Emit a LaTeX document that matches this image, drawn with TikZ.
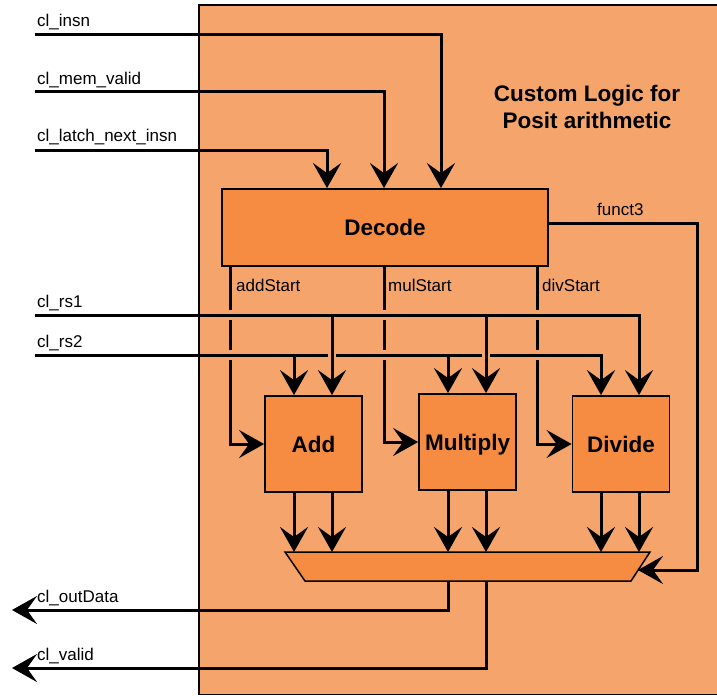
\documentclass[tikz,border=0pt]{standalone}
\usepackage{fontspec}
\setmainfont{Liberation Sans}
\usetikzlibrary{arrows.meta}
\definecolor{panel}{HTML}{F5A46C}
\definecolor{unit}{HTML}{F68C42}
\tikzset{
  sig/.style={line width=3pt, -{Stealth[length=25pt,width=28pt,inset=10pt]}},
  gap/.style={line width=10pt, draw=panel},
  vgap/.style={line width=8pt, draw=panel},
  block/.style={draw, line width=1.8pt, fill=unit, inner sep=0pt,
    text height=16pt, text depth=0pt,
    font=\fontsize{22.5}{27}\selectfont\bfseries},
  lbl/.style={font=\fontsize{17}{20}\selectfont, anchor=base west, inner sep=0pt},
}
\begin{document}
\begin{tikzpicture}[x=1pt,y=-1pt]
\useasboundingbox (0,0) rectangle (717,696);

% enclosing panel (runs off the right edge)
\fill[panel] (199,5) rectangle (722,694.5);
\draw[line width=1.5pt] (722,5) -- (199,5) -- (199,694.5) -- (722,694.5);

\node[font=\fontsize{22.5}{27}\selectfont\bfseries, align=center] (title) at (587,107)
  {Custom Logic for\\Posit arithmetic};

% functional units
\node[block, minimum width=326pt, minimum height=77pt] (decode) at (385,227.5) {Decode};
\node[block, minimum width=97pt, minimum height=96pt] (add) at (313.5,444) {Add};
\node[block, minimum width=97pt, minimum height=96pt] (mul) at (467.5,442) {Multiply};
\node[block, minimum width=97pt, minimum height=96pt] (div) at (621,444) {Divide};

% output multiplexer
\draw[line width=1.5pt, fill=unit] (285,552) -- (650,552) -- (631,581) -- (305,581) -- cycle;
\coordinate (muxtop) at (0,552);
\coordinate (muxbot) at (0,581);
\coordinate (muxr) at (638,570);

% port ends
\coordinate (insn) at (35,34);
\coordinate (memv) at (35,91);
\coordinate (latch) at (35,150);
\coordinate (rs1) at (35,315);
\coordinate (rs2) at (35,355);
\coordinate (outd) at (12,610);
\coordinate (valid) at (12,668);

% columns
\coordinate (xL) at (327,0);
\coordinate (xM) at (384,0);
\coordinate (xI) at (441,0);
\coordinate (xa) at (230,0);
\coordinate (xd) at (537,0);
\coordinate (xf) at (697,0);
\coordinate (a1) at (294,0);
\coordinate (a2) at (332,0);
\coordinate (m1) at (448,0);
\coordinate (m2) at (486,0);
\coordinate (d1) at (601,0);
\coordinate (d2) at (639,0);
\coordinate (f3) at (548,223);

% port labels
\node[lbl] (linsn) at (37,26) {cl\_insn};
\node[lbl] (lmemv) at (37,84.5) {cl\_mem\_valid};
\node[lbl] (llatch) at (37,141.5) {cl\_latch\_next\_insn};
\node[lbl] (lrs1) at (37,307) {cl\_rs1};
\node[lbl] (lrs2) at (37,347) {cl\_rs2};
\node[lbl] (loutd) at (37,602) {cl\_outData};
\node[lbl] (lvalid) at (37,660) {cl\_valid};
\node[lbl] (ladd) at (236,291) {addStart};
\node[lbl] (lmul) at (388,291) {mulStart};
\node[lbl] (ldiv) at (542,291) {divStart};
\node[lbl] (lf3) at (597,215) {funct3};

% inputs into the decoder
\draw[sig] (insn) -| (xI |- decode.north);
\draw[sig] (memv) -| (xM |- decode.north);
\draw[sig] (latch) -| (xL |- decode.north);

% start strobes
\draw[sig] (decode.south -| xa) |- (add.west);
\draw[sig] (decode.south -| xM) |- (mul.west);
\draw[sig] (decode.south -| xd) |- (div.west);

% second operand, hopping over the strobes
\foreach \c in {xa,xM,xd} \draw[gap] (\c |- rs2) ++(-4,0) -- ++(8,0);
\draw[sig] (rs2) -| (d1 |- div.north);
\draw[sig] (rs2 -| a1) -- (a1 |- add.north);
\draw[sig] (rs2 -| m1) -- (m1 |- mul.north);

% first operand, hopping over strobes; second operand hops over its drops
\foreach \c in {xa,xM,xd} \draw[gap] (\c |- rs1) ++(-4,0) -- ++(8,0);
\foreach \c in {a2,m2} \draw[vgap] (\c |- rs2) ++(0,-5) -- ++(0,10);
\draw[sig] (rs1) -| (d2 |- div.north);
\draw[sig] (rs1 -| a2) -- (a2 |- add.north);
\draw[sig] (rs1 -| m2) -- (m2 |- mul.north);

% results into the multiplexer
\foreach \c/\u in {a1/add,a2/add,m1/mul,m2/mul,d1/div,d2/div}
  \draw[sig] (\c |- \u.south) -- (\c |- muxtop);

% select
\draw[sig] (f3) -| (xf |- muxr) -- (muxr);

% outputs
\draw[sig] (m1 |- muxbot) |- (outd);
\draw[sig] (m2 |- muxbot) |- (valid);
\end{tikzpicture}
\end{document}
